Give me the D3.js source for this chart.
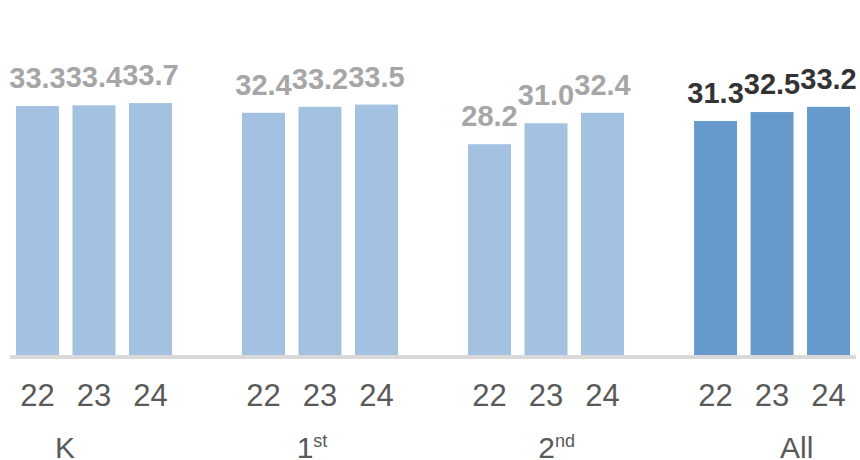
<!DOCTYPE html>
<html>
<head>
<meta charset="utf-8">
<script src="https://cdn.jsdelivr.net/npm/d3@7"></script>
<style>
  body { margin: 0; background: #fff; }
  svg { display: block; font-family: "Liberation Sans", Arial, sans-serif; }
</style>
</head>
<body>
<svg id="chart" width="860" height="460"></svg>
<script>
// chart data
const groups = ["K", "1st", "2nd", "All"];
const years = ["22", "23", "24"];
const valuesK = [33.3, 33.4, 33.7];
const values1st = [32.4, 33.2, 33.5];
const values2nd = [28.2, 31.0, 32.4];
const valuesAll = [31.3, 32.5, 33.2];

const seriesByGroup = {
  "K": valuesK,
  "1st": values1st,
  "2nd": values2nd,
  "All": valuesAll
};

let svg = d3.select("#chart");

// group scale, then years inside each group
let x0 = d3.scaleBand().domain(groups).range([16, 850]).paddingInner(0.31).paddingOuter(0);
let x1 = d3.scaleBand().domain(years).range([0, x0.bandwidth()]).paddingInner(0.239).paddingOuter(0);
let y = d3.scaleLinear().domain([0, 40]).range([355, 56]);

// caption row under the year ticks (left aligned, like the original text boxes)
let xCaption = d3.scalePoint().domain(groups).range([55, 780]);

let rows = [];
groups.forEach(function(g) {
  seriesByGroup[g].forEach(function(v, i) {
    rows.push({ group: g, year: years[i], value: v });
  });
});

// bars
svg.append("g")
  .selectAll("rect")
  .data(rows)
  .enter()
  .append("rect")
  .attr("x", d => x0(d.group) + x1(d.year))
  .attr("y", d => y(d.value))
  .attr("width", x1.bandwidth())
  .attr("height", d => y(0) - y(d.value))
  .attr("fill", d => d.group === "All" ? "#6699cc" : "#a3c2e1");

// baseline
svg.append("line")
  .attr("x1", 10)
  .attr("x2", 856)
  .attr("y1", y(0) + 2)
  .attr("y2", y(0) + 2)
  .attr("stroke", "#d9d9d9")
  .attr("stroke-width", 4);

// value labels
svg.append("g")
  .selectAll("text")
  .data(rows)
  .enter()
  .append("text")
  .attr("x", d => x0(d.group) + x1(d.year) + x1.bandwidth() / 2)
  .attr("y", d => y(d.value) - 18)
  .attr("text-anchor", "middle")
  .attr("font-size", "29px")
  .attr("font-weight", "bold")
  .attr("fill", d => d.group === "All" ? "#333333" : "#a6a6a6")
  .text(d => d.value.toFixed(1));

// year tick labels
svg.append("g")
  .selectAll("text")
  .data(rows)
  .enter()
  .append("text")
  .attr("x", d => x0(d.group) + x1(d.year) + x1.bandwidth() / 2)
  .attr("y", 406)
  .attr("text-anchor", "middle")
  .attr("font-size", "31px")
  .attr("fill", "#595959")
  .text(d => d.year);

// group captions, ordinals get a superscript
let caps = svg.append("g")
  .selectAll("text")
  .data(groups)
  .enter()
  .append("text")
  .attr("x", d => xCaption(d))
  .attr("y", 458)
  .attr("font-size", "30px")
  .attr("fill", "#595959");

caps.each(function(d) {
  let m = d.match(/^(\d+)(st|nd|rd|th)$/);
  let t = d3.select(this);
  if (m) {
    t.append("tspan").text(m[1]);
    t.append("tspan").attr("font-size", "18px").attr("dy", -11).text(m[2]);
  } else {
    t.text(d);
  }
});
</script>
</body>
</html>
